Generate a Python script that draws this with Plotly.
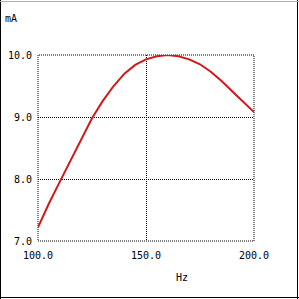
import plotly.graph_objects as go

freq_hz = [100, 105, 110, 115, 120, 125, 130, 135, 140, 145, 150, 155, 160, 165, 170, 175, 180, 185, 190, 195, 200]
current_ma = [7.22, 7.6, 7.95, 8.3, 8.65, 8.98, 9.26, 9.5, 9.7, 9.84, 9.93, 9.98, 10.0, 9.98, 9.93, 9.85, 9.73, 9.58, 9.41, 9.24, 9.08]
x_ticks = [100, 150, 200]
x_labels = ["100.0", "150.0", "200.0"]
y_ticks = [7, 8, 9, 10]
y_labels = ["7.0", "8.0", "9.0", "10.0"]

W, H = 299, 299
L, R, T, B = 38, 45, 55, 58
pw, ph = W - L - R, H - T - B

def px(p):
    return (p - L) / pw

def py(p):
    return (H - B - p) / ph

font = dict(family="DejaVu Sans Mono", size=10, color="black")
dot = dict(color="black", width=1, dash="1px,1px")

fig = go.Figure()
fig.add_trace(go.Scatter(x=freq_hz, y=current_ma, mode="lines",
                         line=dict(color="#d01818", width=2), hoverinfo="skip"))

fig.update_layout(
    width=W, height=H, margin=dict(l=L, r=R, t=T, b=B, autoexpand=False),
    paper_bgcolor="white", plot_bgcolor="white", showlegend=False,
    font=font,
    xaxis=dict(range=[100, 200], tickvals=x_ticks, ticktext=x_labels,
               showgrid=True, gridcolor="black", gridwidth=1, griddash="1px,1px",
               zeroline=False, showline=False, ticks="", ticklabelstandoff=7,
               tickfont=font, fixedrange=True, automargin=False),
    yaxis=dict(range=[7, 10], tickvals=y_ticks, ticktext=y_labels,
               showgrid=True, gridcolor="black", gridwidth=1, griddash="1px,1px",
               zeroline=False, showline=False, ticks="", ticklabelstandoff=5,
               tickfont=font, fixedrange=True, automargin=False),
    annotations=[
        dict(text="mA", x=px(3), y=py(19), xref="paper", yref="paper",
             xanchor="left", yanchor="middle", showarrow=False, font=font),
        dict(text="Hz", x=px(182), y=py(277), xref="paper", yref="paper",
             xanchor="center", yanchor="middle", showarrow=False, font=font),
    ],
    shapes=[
        dict(type="rect", xref="paper", yref="paper", x0=0, x1=1, y0=0, y1=1, line=dot, layer="below"),
        dict(type="line", xref="paper", yref="paper", x0=px(0.5), x1=px(0.5), y0=py(0), y1=py(299), line=dict(color="black", width=1)),
        dict(type="line", xref="paper", yref="paper", x0=px(0), x1=px(299), y0=py(297.5), y1=py(297.5), line=dict(color="black", width=1)),
        dict(type="line", xref="paper", yref="paper", x0=px(297.5), x1=px(297.5), y0=py(0), y1=py(299), line=dict(color="black", width=1)),
        dict(type="line", xref="paper", yref="paper", x0=px(0), x1=px(299), y0=py(1.5), y1=py(1.5), line=dict(color="#b0b0b0", width=1)),
    ],
)

fig.write_html("out.html")
